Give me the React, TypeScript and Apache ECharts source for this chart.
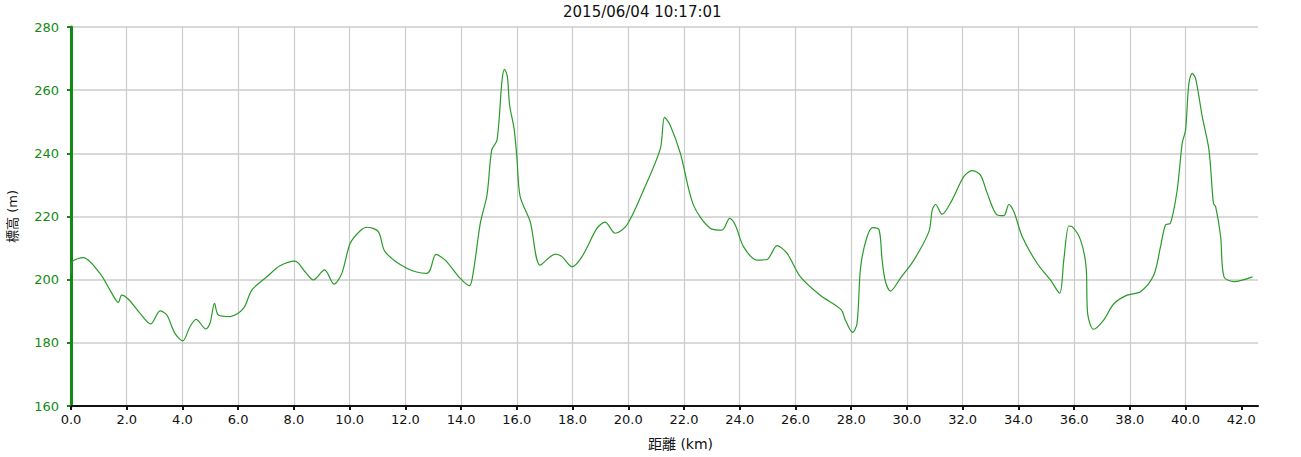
import React, { useEffect, useRef } from "react";
import * as echarts from "echarts";

const titleText = "2015/06/04 10:17:01";
const xName = "距離 (km)";
const yName = "標高 (m)";

const distances = [
  0.0, 0.03, 0.44, 1.04, 1.4, 1.7, 1.82, 2.06, 2.48, 2.86, 3.2, 3.44, 3.73, 4.01, 4.27, 4.49, 4.84, 4.99,
  5.15, 5.29, 5.71, 6.19, 6.49, 7.03, 7.5, 8.04, 8.4, 8.7, 9.1, 9.44, 9.72, 10.02, 10.38, 10.62, 11.03,
  11.27, 12.05, 12.77, 12.89, 13.1, 13.43, 13.97, 14.3, 14.45, 14.69, 14.93, 15.1, 15.29, 15.47, 15.56,
  15.66, 15.74, 15.9, 16.0, 16.12, 16.48, 16.84, 17.38, 17.62, 17.98, 18.34, 18.88, 19.17, 19.53, 19.95,
  20.55, 21.15, 21.3, 21.5, 21.87, 22.34, 22.94, 23.36, 23.64, 23.84, 24.14, 24.62, 24.98, 25.34, 25.7,
  26.18, 26.9, 27.64, 27.79, 28.05, 28.21, 28.34, 28.57, 28.78, 29.0, 29.11, 29.23, 29.41, 29.77, 30.25,
  30.79, 30.91, 31.03, 31.26, 31.62, 32.04, 32.34, 32.64, 32.88, 33.24, 33.48, 33.66, 33.84, 34.14, 34.67,
  35.15, 35.48, 35.63, 35.81, 35.93, 36.23, 36.43, 36.49, 36.7, 37.06, 37.42, 37.9, 38.38, 38.86, 39.1,
  39.28, 39.46, 39.7, 39.88, 40.0, 40.12, 40.24, 40.36, 40.6, 40.84, 41.0, 41.08, 41.26, 41.38, 41.74, 42.4,
];

const elevations = [
  202, 205.5, 207.0, 202.0, 196.7, 192.8, 195.1, 193.8, 189.3, 186.0, 190.1, 188.8, 183.0, 180.6, 185.1,
  187.4, 184.4, 186.2, 192.5, 188.8, 188.3, 190.9, 196.7, 200.9, 204.4, 205.9, 202.5, 199.9, 203.1, 198.6,
  202.0, 211.5, 215.5, 216.6, 215.2, 208.9, 203.6, 202.0, 203.1, 208.0, 206.2, 200.4, 198.1, 203.1, 217.9,
  226.8, 241.1, 244.2, 263.2, 266.6, 264.3, 255.3, 247.9, 239.0, 226.3, 218.4, 204.6, 208.1, 207.3, 204.1,
  207.3, 216.3, 218.2, 214.7, 217.3, 228.4, 241.5, 251.4, 249.0, 240.0, 223.6, 216.3, 215.7, 219.4, 217.3,
  210.4, 206.2, 206.4, 210.8, 208.3, 200.9, 195.0, 190.5, 187.2, 183.3, 186.2, 204.1, 213.6, 216.5, 215.8,
  206.2, 199.4, 196.4, 200.5, 206.2, 215.2, 222.1, 223.8, 220.7, 225.2, 232.6, 234.5, 233.1, 227.4, 220.5,
  220.3, 223.8, 221.5, 213.6, 205.2, 199.9, 195.7, 206.2, 217.0, 216.8, 212.6, 204.1, 189.0, 184.3, 187.2,
  192.3, 195.1, 196.2, 201.5, 210.4, 217.3, 217.9, 228.4, 243.2, 247.4, 262.2, 265.3, 263.7, 251.6, 241.1,
  224.2, 223.1, 213.6, 200.9, 199.4, 200.9,
];

const xTicks = [0, 2, 4, 6, 8, 10, 12, 14, 16, 18, 20, 22, 24, 26, 28, 30, 32, 34, 36, 38, 40, 42];

const FONT = "'DejaVu Sans', 'Noto Sans CJK JP', sans-serif";

export default function App() {
  const ref = useRef<HTMLDivElement>(null);
  useEffect(() => {
    if (!ref.current) return;
    const chart = echarts.init(ref.current, undefined, { renderer: "svg" });
    const data = distances.map((d, i) => [d, elevations[i]]);
    chart.setOption({
      animation: false,
      backgroundColor: "#ffffff",
      grid: { left: 71, right: 43, top: 27, bottom: 51, containLabel: false, outerBoundsMode: "none" },
      graphic: [
        {
          type: "text",
          left: 563,
          top: 4,
          style: { text: titleText, font: `15px ${FONT}`, fill: "#111" },
        },
      ],
      xAxis: {
        type: "value",
        min: 0,
        max: 42.6,
        interval: 2,
        name: xName,
        nameLocation: "middle",
        nameGap: 31,
        nameTextStyle: { fontFamily: FONT, fontSize: 14, color: "#111", padding: [0, 0, 0, 32] },
        axisLine: { show: true, onZero: false, lineStyle: { color: "#111", width: 2 } },
        axisTick: { show: true, length: 4, lineStyle: { color: "#111", width: 2 }, customValues: xTicks },
        axisLabel: {
          fontFamily: FONT,
          fontSize: 13,
          color: "#111",
          margin: 7,
          customValues: xTicks,
          formatter: (v: number) => v.toFixed(1),
        },
        splitLine: { show: true, showMinLine: false, showMaxLine: false, lineStyle: { color: "#cccccc", width: 1.2 } },
      },
      yAxis: {
        type: "value",
        min: 160,
        max: 280,
        interval: 20,
        name: yName,
        nameLocation: "middle",
        nameGap: 52,
        nameRotate: 90,
        nameTextStyle: { fontFamily: FONT, fontSize: 13, color: "#111" },
        axisLine: { show: true, lineStyle: { color: "#138a13", width: 3 } },
        axisTick: { show: true, inside: false, length: 4, lineStyle: { color: "#138a13", width: 2 } },
        axisLabel: { fontFamily: FONT, fontSize: 13, color: "#138a13", margin: 12 },
        splitLine: { show: true, lineStyle: { color: "#cccccc", width: 1.5 } },
      },
      series: [
        {
          type: "line",
          data,
          smooth: 0.3,
          showSymbol: false,
          symbol: "none",
          lineStyle: { color: "#2a9a2a", width: 1.2 },
        },
      ],
    });
    return () => chart.dispose();
  }, []);
  return <div ref={ref} style={{ position: "fixed", left: 0, top: 0, width: 1301, height: 457 }} />;
}
